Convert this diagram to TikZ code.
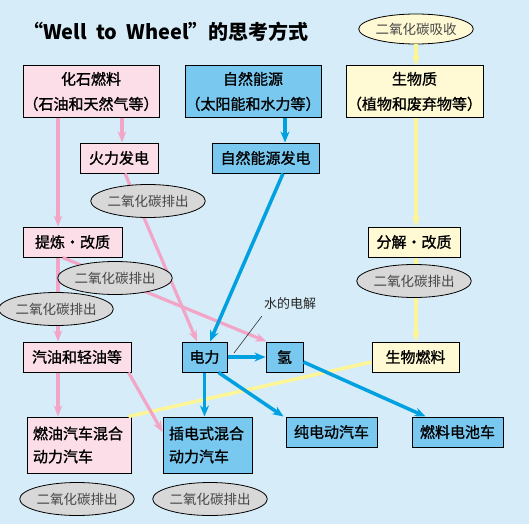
\documentclass[tikz,border=0pt]{standalone}
\usepackage{fontspec}
\usetikzlibrary{shapes.geometric,arrows.meta}
\newfontfamily\cjk{Noto Sans CJK SC}
\newfontfamily\cjkm[FakeBold=1.2]{Noto Sans CJK SC}
\definecolor{bg}{RGB}{214,236,248}
\definecolor{pinkfill}{RGB}{252,222,232}
\definecolor{pinkline}{RGB}{242,165,198}
\definecolor{bluefill}{RGB}{120,200,240}
\definecolor{blueline}{RGB}{0,160,225}
\definecolor{yelfill}{RGB}{255,250,212}
\definecolor{yelline}{RGB}{253,245,150}
\definecolor{ellfill}{RGB}{216,216,216}
\definecolor{elltext}{RGB}{70,70,70}
\begin{document}
\begin{tikzpicture}[x=1pt,y=-1pt,
  box/.style={draw=black, line width=1pt, inner sep=0pt, align=center, text=black,
    font=\cjkm\fontsize{15pt}{25pt}\selectfont},
  pinkbox/.style={box, fill=pinkfill},
  bluebox/.style={box, fill=bluefill},
  yelbox/.style={box, fill=yelfill},
  carbox/.style={draw=black, line width=1pt, inner xsep=6pt, inner ysep=0pt, align=left,
    font=\cjkm\fontsize{15pt}{23pt}\selectfont, minimum height=56pt},
  co2/.style={ellipse, draw=black, line width=0.8pt, fill=ellfill, minimum width=105pt,
    minimum height=33pt, inner sep=0pt, text=elltext, font=\cjk\fontsize{13.5pt}{16pt}\selectfont},
  pinkarrow/.style={draw=pinkline, line width=3.2pt, -{Stealth[length=11pt,width=8.5pt]}},
  bluearrow/.style={draw=blueline, line width=3.5pt, -{Stealth[length=11pt,width=9pt]}},
  yelarrow/.style={draw=yelline, line width=3.5pt, -{Stealth[length=10pt,width=8pt]}},
  yelline/.style={draw=yelline, line width=3.5pt}
]
\fill[bg] (0,0) rectangle (529,524);
\useasboundingbox (0,0) rectangle (529,524);

% title
\node[anchor=west, inner sep=0pt, font=\cjk\bfseries\fontsize{20pt}{24pt}\selectfont] (title) at (23,32) {“Well\ \ to\ \ Wheel”的思考方式};

% boxes
\node[pinkbox, minimum width=136pt, minimum height=51pt] (fossil) at (91,91.5) {化石燃料\\（石油和天然气等）};
\node[bluebox, minimum width=136pt, minimum height=51pt] (natural) at (253,91.5) {自然能源\\（太阳能和水力等）};
\node[yelbox, minimum width=137pt, minimum height=51pt] (biomass) at (414.5,91.5) {生物质\\（植物和废弃物等）};
\node[pinkbox, minimum width=78pt, minimum height=30pt] (thermal) at (119,158) {火力发电};
\node[bluebox, minimum width=107pt, minimum height=30pt] (natgen) at (265.5,158) {自然能源发电};
\node[pinkbox, minimum width=99pt, minimum height=30pt] (refine) at (72.5,242) {提炼・改质};
\node[yelbox, minimum width=92pt, minimum height=30pt] (decomp) at (414,242) {分解・改质};
\node[pinkbox, minimum width=108pt, minimum height=30pt] (gasoline) at (77,357) {汽油和轻油等};
\node[bluebox, minimum width=45pt, minimum height=30pt] (elec) at (204.5,357) {电力};
\node[bluebox, minimum width=37pt, minimum height=30pt] (h2) at (284.5,357) {氢};
\node[yelbox, minimum width=87pt, minimum height=30pt] (biofuel) at (415.5,357) {生物燃料};
\node[carbox, fill=pinkfill, text width=92pt] (hev) at (79,445) {燃油汽车混合\\动力汽车};
\node[carbox, fill=bluefill, text width=77pt] (phev) at (207.5,445) {插电式混合\\动力汽车};
\node[bluebox, minimum width=91pt, minimum height=30pt] (bev) at (331.5,432) {纯电动汽车};
\node[bluebox, minimum width=91pt, minimum height=30pt] (fcv) at (457.5,432) {燃料电池车};

\coordinate (xa) at (58,0);
\coordinate (xb) at (122,0);
\coordinate (xc) at (285,0);
\coordinate (xd) at (416,0);

\node[co2, fill=yelfill, minimum height=30pt] (absorb) at (416,29) {二氧化碳吸收};

% yellow connectors (bottom layer)
\draw[yelline] ([yshift=-5pt]biofuel.west) -- ([xshift=-3pt]hev.north east);
\draw[yelarrow] (absorb.south -| xd) -- (biomass.north -| xd);
\draw[yelarrow] (biomass.south -| xd) -- (decomp.north -| xd);
\draw[yelarrow] (decomp.south -| xd) -- (biofuel.north -| xd);

% pink connectors
\draw[pinkarrow] (fossil.south -| xa) -- (refine.north -| xa);
\draw[pinkarrow] (fossil.south -| xb) -- (thermal.north -| xb);
\draw[pinkarrow] (refine.south -| xa) -- (gasoline.north -| xa);
\draw[pinkarrow] (gasoline.south -| xa) -- (hev.north -| xa);
\draw[pinkarrow] ([xshift=6pt]thermal.south) -- ([xshift=-7.5pt]elec.north);
\draw[pinkarrow] ([xshift=40pt]refine.south west) -- ([xshift=1pt]h2.north west);
\draw[pinkarrow] ([xshift=-3pt]gasoline.south east) -- ([yshift=13pt]phev.west);

% blue connectors
\draw[bluearrow] (natural.south -| xc) -- (natgen.north -| xc);
\draw[bluearrow] ([xshift=17.5pt]natgen.south) -- ([xshift=5.5pt]elec.north);
\draw[bluearrow] (elec.east) -- (h2.west);
\draw[bluearrow] (elec.south) -- (phev.north -| elec.south);
\draw[bluearrow] ([xshift=-9pt]elec.south east) -- ([xshift=-2pt]bev.north west);
\draw[bluearrow] ([yshift=-5pt]h2.east) -- ([xshift=-32pt]fcv.north);

% CO2 ellipses
\node[co2] (e1) at (148,201) {二氧化碳排出};
\node[co2] (e2) at (115,278) {二氧化碳排出};
\node[co2] (e3) at (56,309) {二氧化碳排出};
\node[co2] (e4) at (414,281) {二氧化碳排出};
\node[co2] (e5) at (77,499) {二氧化碳排出};
\node[co2] (e6) at (210,499) {二氧化碳排出};

% electrolysis label
\node[inner sep=0pt, font=\cjk\fontsize{13pt}{15pt}\selectfont, text=black!85] (lbl) at (290,304) {水的电解};
\coordinate (lblend) at (234,353);
\draw[black!80, line width=0.6pt] (lblend) -- ([xshift=-2pt,yshift=-6pt]lbl.south west);
\end{tikzpicture}
\end{document}
